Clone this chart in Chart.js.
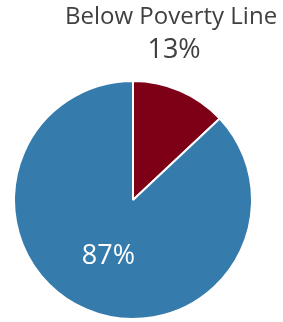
<!DOCTYPE html>
<html>
<head>
<meta charset="utf-8">
<script src="https://cdn.jsdelivr.net/npm/chart.js@4"></script>
<style>
  html, body { margin: 0; padding: 0; background: #fff; }
  #wrap { width: 283px; height: 322px; }
</style>
</head>
<body>
<div id="wrap"><canvas id="chart"></canvas></div>
<script>
const categories = ['Below Poverty Line', 'Above Poverty Line'];
const shares = [13, 87];
const sliceColors = ['#7d0016', '#357cad'];

// draws the percentage labels; the first slice gets its name above the pie
const sliceLabels = {
  id: 'sliceLabels',
  afterDatasetsDraw(chart) {
    const ctx = chart.ctx;
    const arcs = chart.getDatasetMeta(0).data;
    ctx.save();
    ctx.textAlign = 'center';
    ctx.textBaseline = 'middle';
    arcs.forEach((arc, i) => {
      const r = arc.outerRadius;
      const pct = shares[i] + '%';
      if (i === 0) {
        const x = arc.x + r * 0.32;
        ctx.fillStyle = '#404040';
        ctx.font = '24px "Open Sans"';
        ctx.fillText(categories[i], x, arc.y - r * 1.535);
        ctx.font = '27px "Open Sans"';
        ctx.fillText(pct, x + 3, arc.y - r * 1.255);
      } else {
        const mid = (arc.startAngle + arc.endAngle) / 2;
        ctx.fillStyle = '#ffffff';
        ctx.font = '27px "Open Sans"';
        ctx.fillText(pct, arc.x + Math.cos(mid) * r * 0.52, arc.y + Math.sin(mid) * r * 0.52);
      }
    });
    ctx.restore();
  }
};

new Chart(document.getElementById('chart'), {
  type: 'pie',
  data: {
    labels: categories,
    datasets: [{
      data: shares,
      backgroundColor: sliceColors,
      borderColor: '#ffffff',
      borderWidth: 2,
      hoverOffset: 0
    }]
  },
  options: {
    responsive: true,
    maintainAspectRatio: false,
    animation: false,
    layout: { padding: { left: 13, right: 30, top: 80, bottom: 2 } },
    plugins: {
      legend: { display: false },
      tooltip: { enabled: false }
    }
  },
  plugins: [sliceLabels]
});
</script>
</body>
</html>
